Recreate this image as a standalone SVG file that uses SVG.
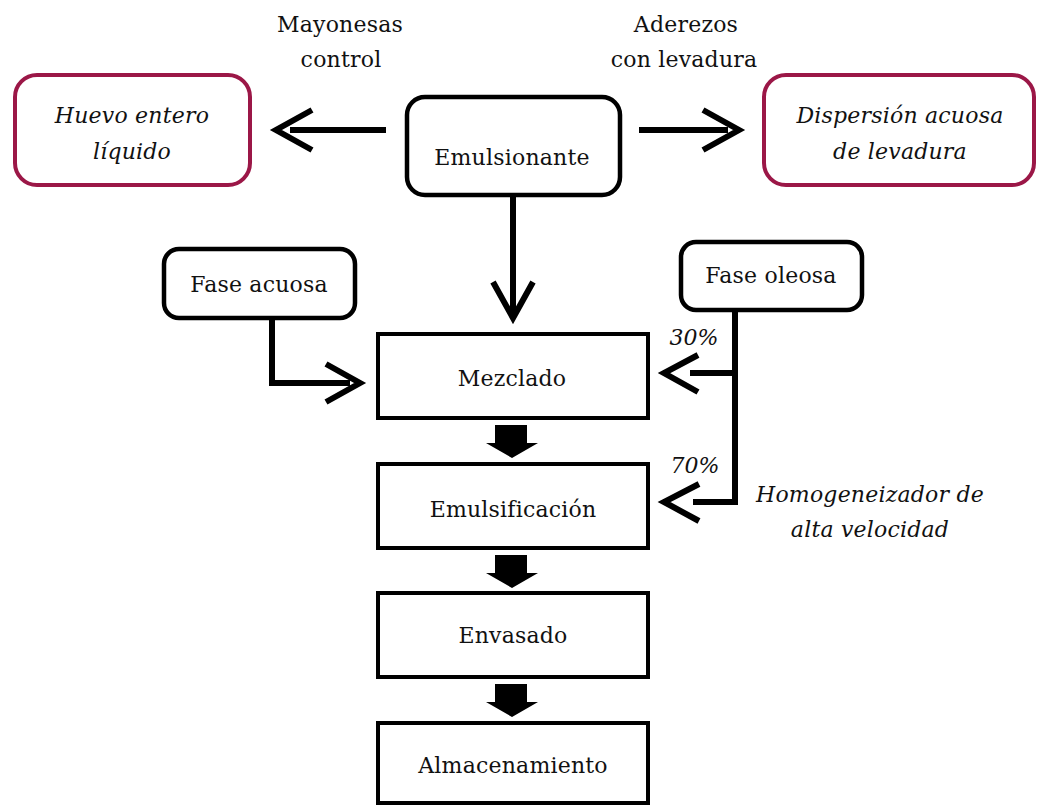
<svg xmlns="http://www.w3.org/2000/svg" width="1038" height="806" viewBox="0 0 1038 806">
<style>
.t{font-size:22px;fill:#111;letter-spacing:0.2px;text-anchor:middle}
.i{font-style:italic}
.rb{fill:#fff;stroke:#000;stroke-width:4.5}
.mb{fill:#fff;stroke:#9b1747;stroke-width:4}
.pb{fill:#fff;stroke:#000;stroke-width:4}
.ln{fill:none;stroke:#000;stroke-width:6}
.ch{fill:none;stroke:#000;stroke-width:6;stroke-linejoin:miter}
</style>
<rect width="1038" height="806" fill="#fff"/>
<g font-family="DejaVu Serif">
<g id="label-mayonesas"><text class="t" x="340" y="32">Mayonesas</text><text class="t" x="341" y="67">control</text></g>
<g id="label-aderezos"><text class="t" x="686" y="32">Aderezos</text><text class="t" x="684" y="67">con levadura</text></g>
<g id="huevo"><rect class="mb" x="15" y="75" width="235" height="110" rx="22"/><text class="t i" x="132" y="123">Huevo entero</text><text class="t i" x="132" y="159">líquido</text></g>
<g id="emulsionante"><rect class="rb" x="407" y="97" width="213" height="98" rx="18"/><text class="t" x="512" y="165">Emulsionante</text></g>
<g id="dispersion"><rect class="mb" x="764" y="75" width="270" height="110" rx="22"/><text class="t i" x="900" y="123">Dispersión acuosa</text><text class="t i" x="900" y="159">de levadura</text></g>
<g id="fase-acuosa"><rect class="rb" x="164" y="249" width="191" height="69" rx="15"/><text class="t" x="259" y="292">Fase acuosa</text></g>
<g id="fase-oleosa"><rect class="rb" x="681" y="242" width="181" height="68" rx="15"/><text class="t" x="771" y="283">Fase oleosa</text></g>
<g id="mezclado"><rect class="pb" x="378" y="334" width="270" height="84"/><text class="t" x="512" y="386">Mezclado</text></g>
<g id="emulsificacion"><rect class="pb" x="378" y="464" width="270" height="84"/><text class="t" x="513" y="517">Emulsificación</text></g>
<g id="envasado"><rect class="pb" x="378" y="593" width="270" height="84"/><text class="t" x="513" y="643">Envasado</text></g>
<g id="almacenamiento"><rect class="pb" x="378" y="723" width="270" height="80"/><text class="t" x="513" y="773">Almacenamiento</text></g>
<g id="labels-pct"><text class="t i" x="694" y="345" style="letter-spacing:0">30%</text><text class="t i" x="695" y="473" style="letter-spacing:0">70%</text></g>
<g id="label-homog"><text class="t i" x="870" y="502">Homogeneizador de</text><text class="t i" x="870" y="537">alta velocidad</text></g>
</g>
<g id="connectors">
<line class="ln" x1="386" y1="130" x2="290" y2="130"/>
<polyline class="ch" points="312,110 276,130 312,150"/>
<line class="ln" x1="639" y1="130" x2="728" y2="130"/>
<polyline class="ch" points="703,110 739,130 703,150"/>
<line class="ln" x1="513" y1="195" x2="513" y2="312"/>
<polyline class="ch" points="493,282 513,318 533,282"/>
<polyline class="ln" points="272,318 272,383 350,383"/>
<polyline class="ch" points="326,364 360,383 326,402"/>
<polyline class="ln" points="735,310 735,502 693,502"/>
<line class="ln" x1="735" y1="373" x2="690" y2="373"/>
<polyline class="ch" points="698,355 664,373 698,392"/>
<polyline class="ch" points="699,484 664,502 699,521"/>
<polygon points="495,425 527,425 527,443 538,443 512,458 486,443 495,443"/>
<polygon points="495,555 527,555 527,573 538,573 512,588 486,573 495,573"/>
<polygon points="495,684 527,684 527,702 538,702 512,717 486,702 495,702"/>
</g>
</svg>
